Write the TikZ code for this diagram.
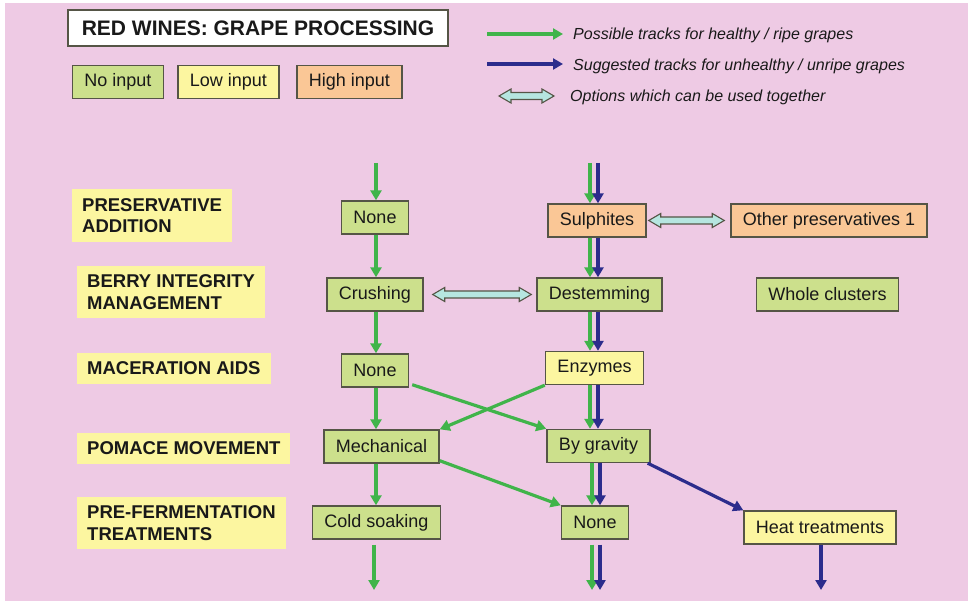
\documentclass[tikz,border=0pt]{standalone}
\usepackage{fontspec}
\setmainfont{Liberation Sans}
\usetikzlibrary{arrows.meta,calc}
\definecolor{bgpink}{RGB}{238,202,228}
\definecolor{boxgreen}{RGB}{204,224,140}
\definecolor{boxyellow}{RGB}{252,246,160}
\definecolor{boxorange}{RGB}{250,199,150}
\definecolor{boxline}{RGB}{85,85,70}
\definecolor{argreen}{RGB}{64,180,74}
\definecolor{arblue}{RGB}{44,44,140}
\definecolor{dblcyan}{RGB}{182,230,224}
\definecolor{txt}{RGB}{25,25,25}
\tikzset{
  box/.style={draw=boxline, line width=1.4pt, rectangle, minimum height=33pt, inner xsep=12pt, inner ysep=0pt, font=\fontsize{18}{21}\selectfont, text=txt},
  gbox/.style={box, fill=boxgreen},
  ybox/.style={box, fill=boxyellow},
  obox/.style={box, fill=boxorange},
  stagebox/.style={fill=boxyellow, rectangle, anchor=west, align=left, inner xsep=10pt, inner ysep=9pt, font=\fontsize{18.5}{21.5}\selectfont\bfseries, text=txt},
  garr/.style={draw=argreen, line width=3.2pt, -{Triangle[length=10pt,width=11pt]}},
  barr/.style={draw=arblue, line width=3.2pt, -{Triangle[length=10pt,width=11pt]}},
  dblarrstyle/.style={draw=boxline, line width=1.1pt, fill=dblcyan},
  legtext/.style={anchor=west, font=\fontsize{16}{19}\selectfont\itshape, text=txt, inner sep=0pt}
}
\newcommand{\dblarr}[2]{%
  \path let \p1=(#1), \p2=(#2) in
    [dblarrstyle] (\x1,\y1) -- (\x1+12pt,\y1+7pt) -- (\x1+12pt,\y1+3.5pt) -- (\x2-12pt,\y1+3.5pt)
    -- (\x2-12pt,\y1+7pt) -- (\x2,\y1) -- (\x2-12pt,\y1-7pt) -- (\x2-12pt,\y1-3.5pt)
    -- (\x1+12pt,\y1-3.5pt) -- (\x1+12pt,\y1-7pt) -- cycle;}
\begin{document}
\begin{tikzpicture}[x=1pt,y=-1pt]
\useasboundingbox (0,0) rectangle (971,601);
\fill[white] (0,0) rectangle (971,601);
\fill[bgpink] (5,3) rectangle (968,601);

% title and legend boxes
\node[draw=boxline, line width=1.4pt, fill=white, minimum width=380pt, minimum height=36pt, inner sep=0pt,
      font=\fontsize{21}{24}\selectfont\bfseries, text=txt] (title) at (258,28) {RED WINES: GRAPE PROCESSING};
\node[gbox] (noin) at (118,82) {No input};
\node[ybox] (lowin) at (228.5,82) {Low input};
\node[obox] (highin) at (349.5,82) {High input};

% legend arrows
\coordinate (lg1a) at (487,34); \coordinate (lg1b) at (563,34);
\coordinate (lg2a) at (487,64); \coordinate (lg2b) at (563,64);
\coordinate (lg3a) at (499,96); \coordinate (lg3b) at (554,96);
\draw[garr] (lg1a) -- (lg1b);
\draw[barr] (lg2a) -- (lg2b);
\dblarr{lg3a}{lg3b}
\node[legtext] (lt1) at (573,35) {Possible tracks for healthy / ripe grapes};
\node[legtext] (lt2) at (573,66) {Suggested tracks for unhealthy / unripe grapes};
\node[legtext] (lt3) at (570,97) {Options which can be used together};

% stage labels
\node[stagebox] (s1) at (72,215.5) {PRESERVATIVE\\ADDITION};
\node[stagebox] (s2) at (77,292) {BERRY INTEGRITY\\MANAGEMENT};
\node[stagebox] (s3) at (77,368.5) {MACERATION AIDS};
\node[stagebox] (s4) at (77,448.5) {POMACE MOVEMENT};
\node[stagebox] (s5) at (77,523) {PRE-FERMENTATION\\TREATMENTS};

% process nodes
\node[gbox] (none1) at (375,217.5) {None};
\node[obox] (sulph) at (597,220.5) {Sulphites};
\node[obox] (other) at (829,220.5) {Other preservatives 1};
\node[gbox] (crush) at (375,294.5) {Crushing};
\node[gbox] (destem) at (599.5,294.5) {Destemming};
\node[gbox] (whole) at (827.5,294.5) {Whole clusters};
\node[gbox] (none2) at (375,370.5) {None};
\node[ybox] (enz) at (594.5,368) {Enzymes};
\node[gbox] (mech) at (381.5,446.5) {Mechanical};
\node[gbox] (grav) at (598.5,446) {By gravity};
\node[gbox] (cold) at (376.5,522.5) {Cold soaking};
\node[gbox] (none3) at (595,522.5) {None};
\node[ybox] (heat) at (820,527.5) {Heat treatments};

% column guide coordinates
\coordinate (cx) at (376,0);
\coordinate (gx) at (590,0);
\coordinate (bx) at (598,0);
\coordinate (in1) at (376,163);
\coordinate (in2g) at (590,163);
\coordinate (in2b) at (598,163);
\coordinate (out1) at (374,590);
\coordinate (out2g) at (592,590);
\coordinate (out2b) at (600,590);
\coordinate (out3) at (821,590);

% column 1
\draw[garr] (in1) -- (cx |- none1.north);
\draw[garr] (cx |- none1.south) -- (cx |- crush.north);
\draw[garr] (cx |- crush.south) -- (cx |- none2.north);
\draw[garr] (cx |- none2.south) -- (cx |- mech.north);
\draw[garr] (cx |- mech.south) -- (cx |- cold.north);
\draw[garr] (out1 |- cold.south) ++(0,5) -- (out1);

% column 2 green
\draw[garr] (in2g) -- (gx |- sulph.north);
\draw[garr] (gx |- sulph.south) -- (gx |- destem.north);
\draw[garr] (gx |- destem.south) -- (gx |- enz.north);
\draw[garr] (gx |- enz.south) -- (gx |- grav.north);
\draw[garr] (out2g |- grav.south) -- (out2g |- none3.north);
\draw[garr] (out2g |- none3.south) ++(0,5) -- (out2g);

% column 2 blue
\draw[barr] (in2b) -- (bx |- sulph.north);
\draw[barr] (bx |- sulph.south) -- (bx |- destem.north);
\draw[barr] (bx |- destem.south) -- (bx |- enz.north);
\draw[barr] (bx |- enz.south) -- (bx |- grav.north);
\draw[barr] (out2b |- grav.south) -- (out2b |- none3.north);
\draw[barr] (out2b |- none3.south) ++(0,5) -- (out2b);

% cross arrows
\draw[garr] ([xshift=3pt,yshift=3pt]none2.south east) -- (grav.north west);
\draw[garr] (enz.south west) -- (mech.north east);
\draw[garr] ([yshift=3pt]mech.south east) -- (none3.north west);
\draw[barr] ([xshift=-3pt]grav.south east) -- (heat.north west);
\draw[barr] (out3 |- heat.south) -- (out3);

% option arrows
\coordinate (d1a) at ($(sulph.east)+(2,0)$);
\coordinate (d1b) at ($(other.west)+(-6,0)$);
\dblarr{d1a}{d1b}
\coordinate (d2a) at ($(crush.east)+(9,0)$);
\coordinate (d2b) at ($(destem.west)+(-5,0)$);
\dblarr{d2a}{d2b}
\end{tikzpicture}
\end{document}
